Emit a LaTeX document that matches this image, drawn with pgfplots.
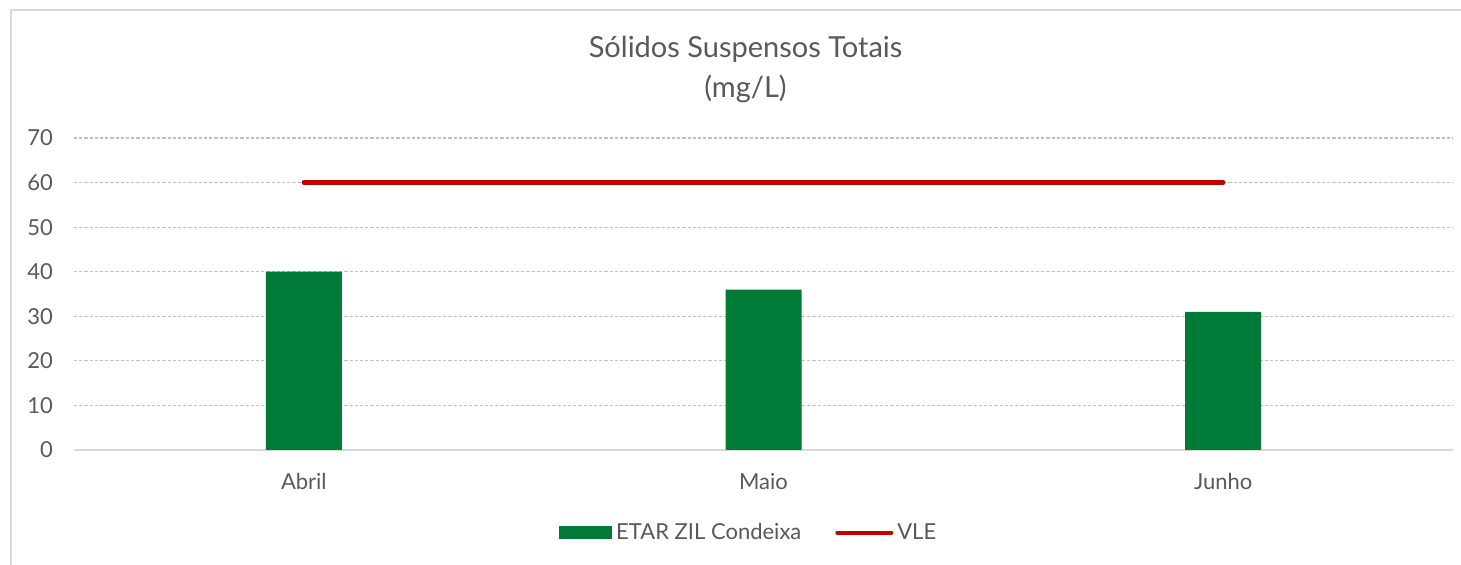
\documentclass[border=0pt]{standalone}
\usepackage{fontspec}
\setmainfont{Lato}
\usepackage{pgfplots}
\pgfplotsset{compat=1.18}
\definecolor{barg}{HTML}{007A37}
\definecolor{vle}{HTML}{C00000}
\definecolor{txt}{HTML}{595959}
\definecolor{gridc}{HTML}{BFBFBF}
\definecolor{axc}{HTML}{D9D9D9}
\begin{document}
\begin{tikzpicture}[font=\fontsize{11pt}{13pt}\selectfont]
\begin{axis}[
    name=ax,
    scale only axis,
    width=689.5pt, height=156pt,
    xmin=-0.5, xmax=2.5,
    ymin=0, ymax=70,
    ytick={0,10,...,70},
    xtick={0,1,2},
    xticklabels={Abril,Maio,Junho},
    axis x line*=bottom,
    axis y line*=left,
    x axis line style={axc, line width=1pt, -},
    y axis line style={draw=none},
    major tick length=0pt,
    ymajorgrids,
    grid style={gridc, dash pattern=on 1.6pt off 1pt, line width=0.6pt},
    ticklabel style={text=txt},
    yticklabel style={xshift=-7pt},
    xticklabel style={yshift=-8pt},
    /pgf/number format/assume math mode=true,
    tick style={draw=none},
    legend columns=2,
    legend style={at={(0.49,-0.265)}, anchor=center, draw=none, text=txt,
        /tikz/every even column/.append style={column sep=15pt}},
    clip=false,
]
\addplot[ybar, bar width=38pt, fill=barg, draw=none,
    legend image code/.code={\fill[barg] (0pt,-3.25pt) rectangle (26.5pt,3.25pt);}]
    coordinates {(0,40) (1,36) (2,31)};
\addlegendentry{ETAR ZIL Condeixa}
\addplot[vle, line width=2.2pt, line cap=round, mark=none,
    legend image code/.code={\draw[vle, line width=2pt, line cap=round] (0pt,0pt) -- (27pt,0pt);}]
    coordinates {(0,60) (1,60) (2,60)};
\addlegendentry{VLE}
\node[text=txt, align=center, font=\fontsize{14.5pt}{20pt}\selectfont, anchor=south]
  at (rel axis cs:0.487,1) [yshift=14pt] {Sólidos Suspensos Totais\\(mg/L)};
\end{axis}
\path (ax.south west) ++(-37pt,-57.5pt) coordinate (pbl);
\path (ax.north east) ++(4pt,69pt) coordinate (ptr);
\path[use as bounding box] (pbl) rectangle (ptr);
\draw[axc, line width=1pt] ([xshift=5.5pt]pbl) -- ([xshift=5.5pt,yshift=-5pt]pbl |- ptr) -- ([yshift=-5pt]ptr);
\end{tikzpicture}
\end{document}
